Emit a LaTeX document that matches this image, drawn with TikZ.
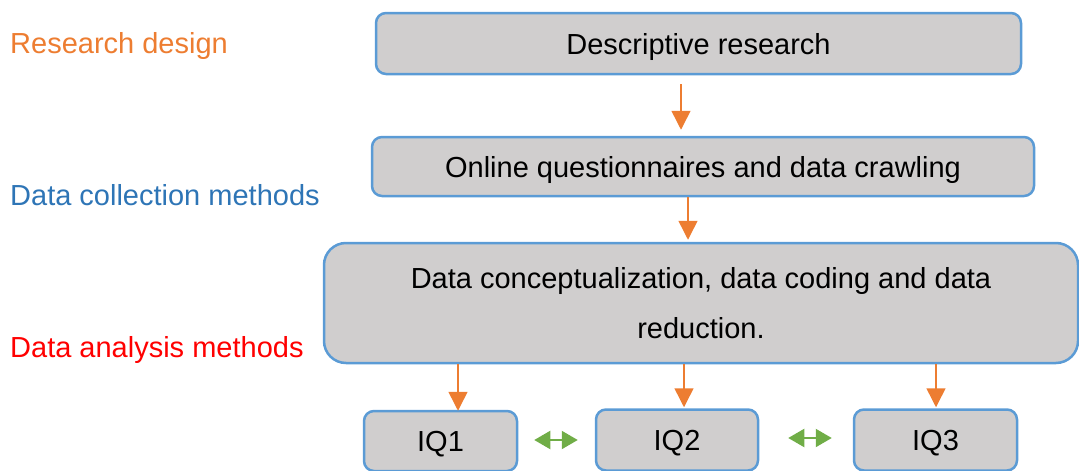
\documentclass[tikz,border=0pt]{standalone}
\usepackage{fontspec}
\setmainfont{Liberation Sans}
\usetikzlibrary{arrows.meta}
\definecolor{bordblue}{HTML}{5B9BD5}
\definecolor{boxgray}{HTML}{D0CECE}
\definecolor{arrorange}{HTML}{ED7D31}
\definecolor{arrgreen}{HTML}{70AD47}
\definecolor{lblblue}{HTML}{2E75B6}
\definecolor{lblred}{HTML}{FF0000}
\definecolor{lblorange}{HTML}{ED7D31}
\tikzset{
  flowbox/.style={draw=bordblue, fill=boxgray, line width=2.5pt, rounded corners=10pt,
    font=\fontsize{29}{50}\selectfont, inner sep=0pt, text height=21pt, text depth=0pt},
  sidelabel/.style={anchor=base west, inner sep=0pt, font=\fontsize{29}{34}\selectfont},
  otip/.tip={Triangle[width=19pt,length=19pt]},
  gtip/.tip={Triangle[width=18pt,length=16pt]},
  oarrow/.style={draw=arrorange, line width=1.5pt, -otip},
  garrow/.style={draw=arrgreen, line width=2pt, gtip-gtip}
}
\begin{document}
\begin{tikzpicture}[x=1pt,y=-1pt]
\useasboundingbox (0,0) rectangle (1079,471);
% side labels
\node[sidelabel, text=lblorange] (l1) at (10,53) {Research design};
\node[sidelabel, text=lblblue] (l2) at (10,205) {Data collection methods};
\node[sidelabel, text=lblred] (l3) at (10,357) {Data analysis methods};
% boxes
\node[flowbox, minimum width=645pt, minimum height=61pt] (b1) at (698.5,43.5) {Descriptive research};
\node[flowbox, minimum width=662pt, minimum height=59pt] (b2) at (703,166.5) {Online questionnaires and data crawling};
\node[flowbox, minimum width=754pt, minimum height=120pt, rounded corners=22pt, align=center, text height=, text depth=] (b3) at (701,303) {Data conceptualization, data coding and data\\reduction.};
\node[flowbox, minimum width=153pt, minimum height=60pt] (q1) at (440.5,441) {IQ1};
\node[flowbox, minimum width=162pt, minimum height=61pt] (q2) at (677,440) {IQ2};
\node[flowbox, minimum width=163pt, minimum height=61pt] (q3) at (935.5,440) {IQ3};
% connectors
\coordinate (a1s) at (681,84);
\draw[oarrow] (a1s) -- ([yshift=6pt]a1s |- b2.north) ;
\draw[oarrow] (b2.south -| 688,0) -- ([yshift=2pt]b3.north -| 688,0);
\draw[oarrow] (b3.south -| q1.north) ++(17.5,0) -- ([xshift=17.5pt,yshift=-1pt]q1.north);
\draw[oarrow] (b3.south -| q2.north) ++(7,0) -- ([xshift=7pt,yshift=1pt]q2.north);
\draw[oarrow] (b3.south -| q3.north) ++(0.5,0) -- ([xshift=0.5pt,yshift=1pt]q3.north);
\draw[garrow] ([xshift=16pt,yshift=1pt]q1.east) -- ([xshift=-17pt]q2.west);
\draw[garrow] ([xshift=29pt,yshift=2pt]q2.east) -- ([xshift=-21pt,yshift=2pt]q3.west);
\end{tikzpicture}
\end{document}
